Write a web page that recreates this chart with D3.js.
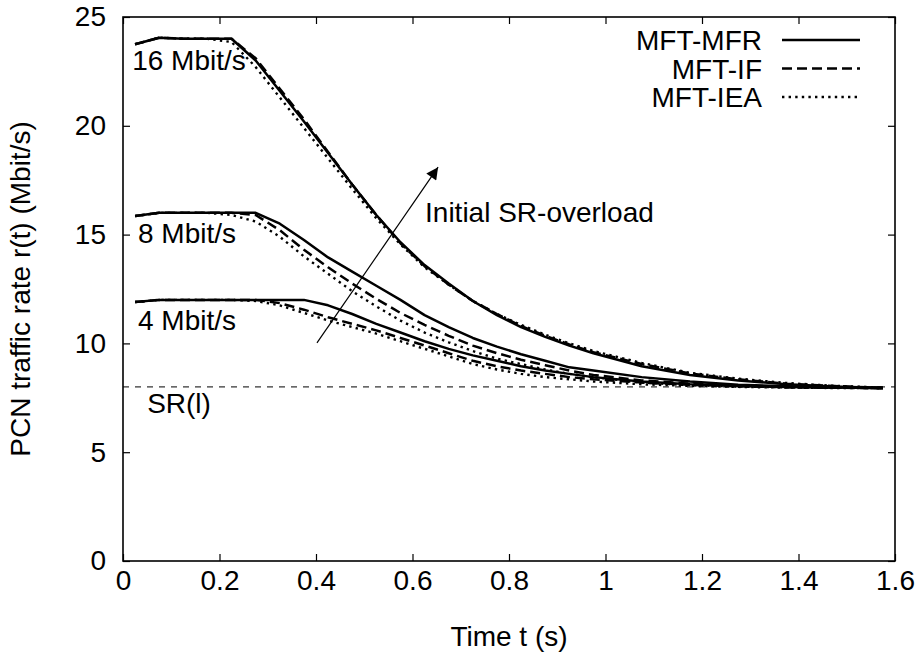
<!doctype html>
<html lang="en">
<head>
  <meta charset="UTF-8">
  <title>PCN traffic rate</title>
<style>
  body{ margin: 0; background: #fff; }
  text{ font-family: "Liberation Sans", Arial, sans-serif; font-size: 28px; fill: #000; }
  .axis path{ display: none; }
  .axis line{ stroke: #000; stroke-width: 1.2px; }
  .frame{ fill: none; stroke: #000; stroke-width: 1.6px; }
  .curve{ fill: none; stroke: #000; stroke-linejoin: round; }
</style>
</head>

<body>
<script src="https://d3js.org/d3.v7.min.js"></script>

<script>
// sample times (s)
var times = [0.025, 0.075, 0.125, 0.175, 0.225, 0.275, 0.325, 0.375, 0.425, 0.475,
             0.525, 0.575, 0.625, 0.675, 0.725, 0.775, 0.825, 0.875, 0.925, 0.975,
             1.075, 1.175, 1.275, 1.375, 1.475, 1.575];

// 16 Mbit/s initial overload
var mfr16 = [23.75, 24.05, 24.0, 24.0, 24.0, 23.0, 21.6, 20.2, 18.75, 17.3, 15.9, 14.65, 13.6,
             12.75, 11.95, 11.3, 10.75, 10.3, 9.9, 9.55, 8.95, 8.55, 8.3, 8.12, 8.02, 7.95];
var if16  = [23.75, 24.05, 24.0, 24.0, 24.0, 23.1, 21.7, 20.3, 18.8, 17.3, 15.9, 14.6, 13.55,
             12.7, 11.95, 11.35, 10.8, 10.35, 9.95, 9.6, 9.05, 8.62, 8.35, 8.15, 8.04, 7.96];
var iea16 = [23.75, 24.05, 24.0, 24.0, 23.85, 22.7, 21.3, 19.9, 18.5, 17.1, 15.75, 14.55, 13.5,
             12.7, 11.95, 11.35, 10.85, 10.4, 10.0, 9.65, 9.1, 8.65, 8.38, 8.18, 8.05, 7.97];

// 8 Mbit/s initial overload
var mfr8  = [15.85, 16.0, 16.0, 16.0, 16.0, 16.0, 15.5, 14.75, 13.95, 13.3, 12.65, 12.0, 11.3,
             10.75, 10.25, 9.85, 9.5, 9.2, 8.9, 8.75, 8.45, 8.25, 8.1, 8.03, 7.98, 7.95];
var if8   = [15.85, 16.0, 16.0, 16.0, 16.0, 15.9, 15.2, 14.3, 13.5, 12.75, 12.05, 11.4, 10.85,
             10.35, 9.9, 9.55, 9.25, 9.0, 8.75, 8.55, 8.3, 8.15, 8.05, 8.0, 7.97, 7.95];
var iea8  = [15.85, 16.0, 16.0, 16.0, 15.9, 15.6, 14.9, 14.0, 13.2, 12.4, 11.7, 11.05, 10.5,
             10.05, 9.65, 9.3, 9.05, 8.8, 8.6, 8.45, 8.2, 8.08, 8.02, 7.98, 7.96, 7.95];

// 4 Mbit/s initial overload
var mfr4  = [11.9, 12.0, 12.0, 12.0, 12.0, 12.0, 12.0, 12.0, 11.75, 11.35, 10.9, 10.5, 10.1,
             9.75, 9.45, 9.2, 8.95, 8.75, 8.6, 8.45, 8.25, 8.12, 8.05, 8.0, 7.97, 7.95];
var if4   = [11.9, 12.0, 12.0, 12.0, 12.0, 12.0, 11.85, 11.55, 11.2, 10.9, 10.6, 10.25, 9.9,
             9.55, 9.2, 8.95, 8.75, 8.6, 8.45, 8.35, 8.2, 8.1, 8.03, 7.99, 7.96, 7.95];
var iea4  = [11.9, 12.0, 12.0, 12.0, 12.0, 11.95, 11.75, 11.4, 11.05, 10.75, 10.45, 10.1, 9.75,
             9.4, 9.05, 8.8, 8.6, 8.45, 8.35, 8.25, 8.12, 8.05, 8.0, 7.97, 7.95, 7.94];

var srLevel = 8;

var xTicks = [0, 0.2, 0.4, 0.6, 0.8, 1, 1.2, 1.4, 1.6];
var yTicks = [0, 5, 10, 15, 20, 25];

var legendNames = ["MFT-MFR", "MFT-IF", "MFT-IEA"];

var margin = {top: 17, right: 28, bottom: 92, left: 123},
    width = 923 - margin.left - margin.right,
    height = 653 - margin.top - margin.bottom;

var styles = [
  {width: 2.5, dash: null},
  {width: 2.5, dash: "10,5"},
  {width: 2.4, dash: "2.4,4.2"}
];

var series = [
  {values: mfr16, style: 0}, {values: if16, style: 1}, {values: iea16, style: 2},
  {values: mfr8, style: 0},  {values: if8, style: 1},  {values: iea8, style: 2},
  {values: mfr4, style: 0},  {values: if4, style: 1},  {values: iea4, style: 2}
];

var xScale = d3.scaleLinear().domain([0, 1.6]).range([0, width]);
var yScale = d3.scaleLinear().domain([0, 25]).range([height, 0]);

var svg = d3.select("body").append("svg")
    .attr("width", 923)
    .attr("height", 653)
    .append("g")
    .attr("transform", "translate(" + margin.left + "," + margin.top + ")");

// axes, ticks pointing inward, mirrored on top and right
svg.append("g")
    .attr("class", "axis")
    .attr("transform", "translate(0," + height + ")")
    .call(d3.axisBottom(xScale).tickValues(xTicks).tickSize(-7).tickPadding(9)
      .tickFormat(function(d){ return d3.format("")(d); }));

svg.append("g")
    .attr("class", "axis")
    .call(d3.axisTop(xScale).tickValues(xTicks).tickSize(-7).tickFormat(""));

svg.append("g")
    .attr("class", "axis")
    .call(d3.axisLeft(yScale).tickValues(yTicks).tickSize(-7).tickPadding(17));

svg.append("g")
    .attr("class", "axis")
    .attr("transform", "translate(" + width + ",0)")
    .call(d3.axisRight(yScale).tickValues(yTicks).tickSize(-7).tickFormat(""));

svg.selectAll(".axis text").style("font-size", "28px")
    .style("font-family", "'Liberation Sans', Arial, sans-serif");

// SR(l) reference level
svg.append("line")
    .attr("x1", 0).attr("x2", width)
    .attr("y1", yScale(srLevel)).attr("y2", yScale(srLevel))
    .attr("stroke", "#000").attr("stroke-width", 1)
    .attr("stroke-dasharray", "6,6");

var line = d3.line()
    .x(function(d, i) { return xScale(times[i]); })
    .y(function(d) { return yScale(d); });

svg.selectAll(".curve")
    .data(series)
    .enter().append("path")
    .attr("class", "curve")
    .attr("d", function(d){ return line(d.values); })
    .attr("stroke-width", function(d){ return styles[d.style].width; })
    .attr("stroke-dasharray", function(d){ return styles[d.style].dash; });

// arrow showing increasing initial overload
svg.append("defs").append("marker")
    .attr("id", "head")
    .attr("viewBox", "0 0 10 10")
    .attr("refX", 10).attr("refY", 5)
    .attr("markerWidth", 16).attr("markerHeight", 12)
    .attr("markerUnits", "userSpaceOnUse")
    .attr("orient", "auto")
    .append("path").attr("d", "M0,0L10,5L0,10Z").attr("fill", "#000");

svg.append("line")
    .attr("x1", xScale(0.402)).attr("y1", yScale(10.02))
    .attr("x2", xScale(0.653)).attr("y2", yScale(18.1))
    .attr("stroke", "#000").attr("stroke-width", 1.2)
    .attr("marker-end", "url(#head)");

// annotations
var notes = [
  {t: 0.019, v: 22.56, text: "16 Mbit/s"},
  {t: 0.031, v: 14.61, text: "8 Mbit/s"},
  {t: 0.031, v: 10.62, text: "4 Mbit/s"},
  {t: 0.05,  v: 6.8,   text: "SR(l)"},
  {t: 0.626, v: 15.58, text: "Initial SR-overload"}
];

svg.selectAll(".note")
    .data(notes)
    .enter().append("text")
    .attr("class", "note")
    .attr("x", function(d){ return xScale(d.t); })
    .attr("y", function(d){ return yScale(d.v); })
    .text(function(d){ return d.text; });

// legend
var legend = svg.selectAll(".legend")
    .data(legendNames)
    .enter().append("g")
    .attr("class", "legend")
    .attr("transform", function(d, i){ return "translate(0," + (23 + i * 28.5) + ")"; });

legend.append("text")
    .attr("x", 639).attr("y", 10)
    .attr("text-anchor", "end")
    .text(function(d){ return d; });

legend.append("line")
    .attr("x1", 659).attr("x2", 737)
    .attr("stroke", "#000")
    .attr("stroke-width", function(d, i){ return styles[i].width; })
    .attr("stroke-dasharray", function(d, i){ return styles[i].dash; });

svg.append("rect")
    .attr("class", "frame")
    .attr("width", width)
    .attr("height", height);

// axis titles
svg.append("text")
    .attr("x", width / 2).attr("y", height + 85)
    .attr("text-anchor", "middle")
    .text("Time t (s)");

svg.append("text")
    .attr("transform", "translate(-93," + (height / 2) + ") rotate(-90)")
    .attr("text-anchor", "middle")
    .text("PCN traffic rate r(t) (Mbit/s)");
</script>
</body>
</html>
